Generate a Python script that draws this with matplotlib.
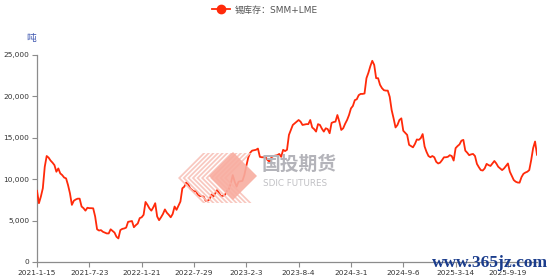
import matplotlib
matplotlib.use("Agg")
import matplotlib.pyplot as plt
from matplotlib.patches import Polygon
from matplotlib.lines import Line2D

plt.rcParams['font.family'] = ['DejaVu Sans', 'Noto Sans CJK SC']

# ---- data (weekly categories) ----
tick_labels = ["2021-1-15", "2021-7-23", "2022-1-21", "2022-7-29", "2023-2-3",
               "2023-8-4", "2024-3-1", "2024-9-6", "2025-3-14", "2025-9-19"]
tick_step = 27
series_name = "锡库存：SMM+LME"
unit = "吨"
values = [
    8600, 7100, 7900, 8900, 11500, 12800, 12600, 12250, 12000, 11700,
    10900, 11300, 10700, 10500, 10200, 10100, 9300, 8300, 6900, 7400,
    7550, 7650, 7650, 6700, 6500, 6200, 6550, 6500, 6500, 6480,
    5500, 3950, 3800, 3850, 3650, 3550, 3450, 3450, 3950, 3750,
    3550, 3050, 2850, 3850, 4000, 4050, 4150, 4850, 4900, 4950,
    4200, 4450, 4650, 5300, 5400, 5700, 7250, 6900, 6480, 6200,
    6600, 7100, 5500, 5050, 5400, 5800, 6350, 5950, 5700, 5400,
    5800, 6700, 6300, 6800, 7300, 8900, 9100, 9600, 9400, 8900,
    8700, 8500, 8600, 8100, 7970, 7950, 7900, 7400, 7400, 7550,
    8150, 7900, 8300, 8700, 8300, 7950, 8000, 8100, 8600, 8800,
    9500, 10500, 9700, 9100, 9700, 9750, 9800, 10500, 11600, 12600,
    13200, 13450, 13500, 13550, 13700, 12700, 12650, 12650, 12650, 12300,
    12100, 12650, 12800, 12850, 12900, 13050, 12700, 13550, 13400, 13550,
    15350, 15950, 16550, 16750, 16950, 17150, 16950, 16550, 16600, 16650,
    16650, 17150, 16250, 16050, 15750, 16650, 16550, 16100, 15750, 16150,
    16050, 15550, 16800, 16900, 16950, 17750, 16950, 15950, 16150, 16700,
    17150, 17750, 18550, 18850, 19550, 19650, 20150, 20300, 20300, 20350,
    22200, 22850, 23650, 24300, 23800, 22200, 22200, 21400, 21000, 20750,
    20700, 20700, 19950, 18350, 17350, 16250, 16550, 17150, 17350, 15850,
    15600, 15350, 14150, 14000, 13850, 14250, 14800, 14750, 14950, 15450,
    13950, 13300, 12800, 12650, 12800, 12650, 12100, 11900, 12000, 12300,
    12650, 12650, 12700, 12900, 12800, 12250, 13750, 14000, 14200, 14650,
    14750, 13450, 13200, 12900, 13000, 13050, 12800, 11850, 11450, 11100,
    11050, 11300, 11850, 11700, 11600, 11900, 12200, 11900, 11500, 11300,
    11100, 11300, 11600, 11900, 10900, 10400, 9900, 9700, 9600, 9580,
    10250, 10650, 10800, 10900, 11100, 12300, 13750, 14550, 12950,
]
y_ticks = [0, 5000, 10000, 15000, 20000, 25000]

# ---- figure ----
W, H = 550, 277
fig = plt.figure(figsize=(W / 100, H / 100), dpi=100)
ax = fig.add_axes([37 / W, 15 / H, (537 - 37) / W, (262 - 55) / H])


def fpoly(pts, **kw):
    fig.patches.append(Polygon([(px / W, 1 - py / H) for px, py in pts], closed=True,
                               transform=fig.transFigure, edgecolor="none", zorder=0, **kw))


# watermark logo (SDIC) behind the line
for k in range(11):
    x0 = 178 + k * 4.6
    fpoly([(x0, 178 + 0), (x0 + 25, 153), (x0 + 27.5, 153), (x0 + 2.5, 178)],
          facecolor="#f8c2b9", alpha=0.9)
    fpoly([(x0, 178), (x0 + 25, 203), (x0 + 27.5, 203), (x0 + 2.5, 178)],
          facecolor="#f8c2b9", alpha=0.9)
fpoly([(233, 152), (257, 176), (233, 200), (209, 176)], facecolor="#f8ada0", alpha=0.9)
fig.text(262 / W, 1 - 164 / H, "国投期货", fontsize=13.5, color="#b4b4ba",
         family=["Noto Sans CJK SC"], weight="bold", va="center", ha="left", zorder=0)
fig.text(263 / W, 1 - 183 / H, "SDIC FUTURES", fontsize=6.3, color="#c0c0c4",
         va="center", ha="left", zorder=0)

x = list(range(len(values)))
ax.plot(x, values, color="#ff2a0a", lw=1.3, zorder=3)

ax.set_xlim(0, len(values) - 1)
ax.set_ylim(0, 25000)
ax.set_facecolor("none")
fig.patch.set_facecolor("white")

ticks_x = [i * tick_step for i in range(len(tick_labels))]
ax.set_xticks(ticks_x)
ax.set_xticklabels(tick_labels)
ax.set_yticks(y_ticks)
ax.set_yticklabels([f"{v:,}" for v in y_ticks])

for s in ["top", "right"]:
    ax.spines[s].set_visible(False)
for s in ["left", "bottom"]:
    ax.spines[s].set_color("#8c8c8c")
    ax.spines[s].set_linewidth(0.9)
ax.tick_params(axis="both", colors="#8c8c8c", length=3.5, width=0.8,
               labelsize=5.3, labelcolor="#333333", pad=2)
ax.tick_params(axis="x", pad=2.5)

# unit label
fig.text(31 / W, 1 - 38 / H, unit, fontsize=7, color="#3f57b0",
         family=["Noto Sans CJK SC"], ha="center", va="center")

# legend
handle = Line2D([], [], color="#ff2a0a", lw=1.3, marker="o", markersize=6,
                markerfacecolor="#ff2a0a", markeredgecolor="#ff2a0a")
leg = fig.legend([handle], [series_name], loc="center", bbox_to_anchor=(265 / W, 1 - 10 / H),
                 frameon=False, fontsize=6.5, handlelength=2.0, handletextpad=0.6,
                 borderaxespad=0)
for t in leg.get_texts():
    t.set_color("#555555")
    t.set_family(["DejaVu Sans", "Noto Sans CJK SC"])

# site watermark
fig.text(548 / W, 1 - 263 / H, "www.365jz.com", fontsize=12.5, color="#1a3c8c",
         family=["Liberation Serif"], weight="bold", ha="right", va="center", zorder=10)

fig.savefig("out.png", dpi=100)
